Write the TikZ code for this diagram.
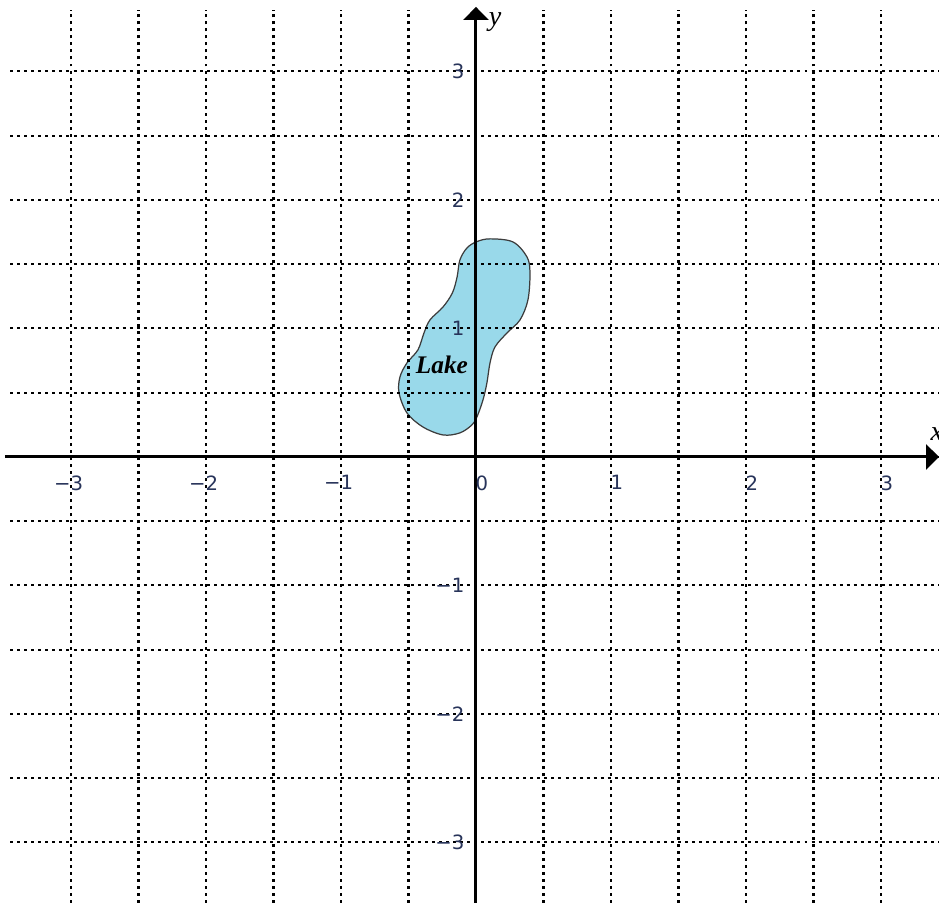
\documentclass[tikz,border=0pt]{standalone}
\usepackage{fontspec}
\newfontfamily\ticksfont{DejaVu Sans}
\newfontfamily\lakefont{Liberation Serif}
\definecolor{lakeblue}{RGB}{153,217,234}
\definecolor{lakeedge}{RGB}{60,60,60}
\definecolor{tickslate}{RGB}{40,52,90}
\usetikzlibrary{arrows.meta}

\begin{document}
\begin{tikzpicture}[
  x=1.35cm, y=1.285cm,
  gridline/.style={
    draw=black, line width=0.6pt,
    dash pattern=on 0.85pt off 1.15pt,
    xstep=0.675cm, ystep=0.6425cm
  },
  axisline/.style={
    draw=black, line width=0.85pt,
    -{Triangle[length=0.13cm,width=0.25cm]}
  },
  lakeshape/.style={fill=lakeblue, draw=lakeedge, line width=0.35pt},
  ticklabel/.style={
    inner sep=0pt, text=tickslate,
    font=\ticksfont\fontsize{5.6}{6.5}\selectfont
  },
  xtick/.style={ticklabel, anchor=north east},
  ytick/.style={ticklabel, anchor=east},
  axislabel/.style={inner sep=0pt, font=\lakefont\itshape\fontsize{8}{9}\selectfont}
]
\useasboundingbox (-3.526,-3.471) rectangle (3.430,3.556);

\draw[lakeshape] plot[smooth cycle, tension=0.55] coordinates {
  (0.005,1.675) (0.104,1.697) (0.274,1.673) (0.378,1.556) (0.4,1.432)
  (0.385,1.222) (0.326,1.066) (0.23,0.965) (0.141,0.856) (0.104,0.732)
  (0.081,0.576) (0.052,0.444) (0.007,0.311) (-0.03,0.249) (-0.119,0.187)
  (-0.244,0.171) (-0.393,0.233) (-0.511,0.342) (-0.57,0.498) (-0.563,0.623)
  (-0.511,0.732) (-0.43,0.833) (-0.385,0.965) (-0.341,1.066) (-0.244,1.167)
  (-0.175,1.276) (-0.14,1.4) (-0.119,1.533) (-0.067,1.626)};

\draw[gridline] (-3.45,-3.471) grid (3.43,3.48);

\coordinate (xleft) at (-3.49,0);
\coordinate (xright) at (3.43,0);
\coordinate (ybottom) at (0,-3.471);
\coordinate (ytop) at (0,3.502);
\draw[axisline] (xleft) -- (xright);
\draw[axisline] (ybottom) -- (ytop);

\node[xtick] (xm3) at (-2.904,-0.14) {−3};
\node[xtick] (xm2) at (-1.904,-0.14) {−2};
\node[xtick] (xm1) at (-0.904,-0.14) {−1};
\node[xtick] (x0)  at (0.096,-0.14)  {0};
\node[xtick] (x1)  at (1.096,-0.14)  {1};
\node[xtick] (x2)  at (2.096,-0.14)  {2};
\node[xtick] (x3)  at (3.096,-0.14)  {3};

\node[ytick] (y3)  at (-0.081,3)  {3};
\node[ytick] (y2)  at (-0.081,2)  {2};
\node[ytick] (y1)  at (-0.081,1)  {1};
\node[ytick] (ym1) at (-0.081,-1) {−1};
\node[ytick] (ym2) at (-0.081,-2) {−2};
\node[ytick] (ym3) at (-0.081,-3) {−3};

\node[axislabel, anchor=west] (xname) at (3.363,0.18) {x};
\node[axislabel] (yname) at (0.141,3.385) {y};

\node[inner sep=0pt, font=\lakefont\bfseries\itshape\fontsize{7.2}{8}\selectfont]
  (lakename) at (-0.252,0.72) {Lake};
\end{tikzpicture}
\end{document}
